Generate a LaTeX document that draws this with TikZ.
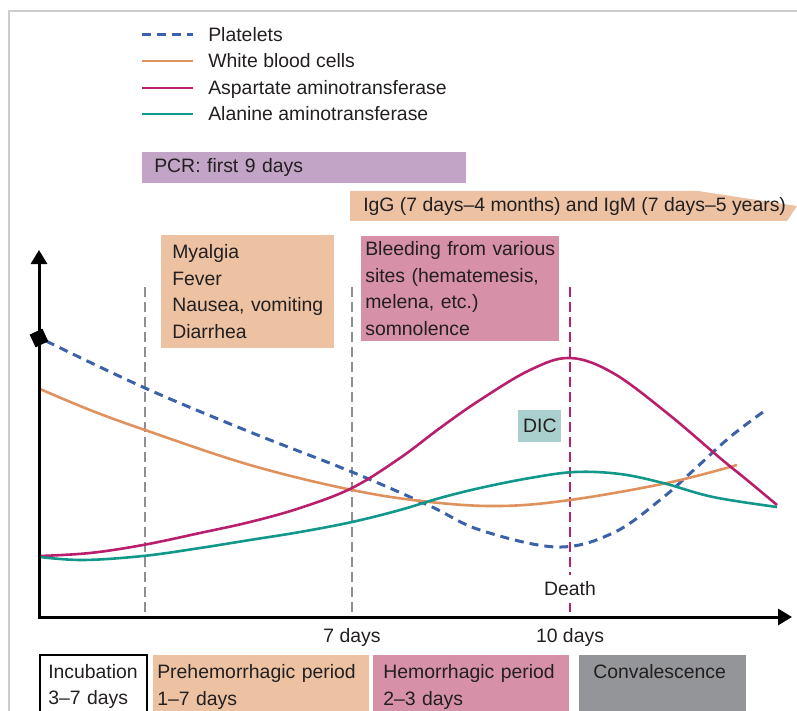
\documentclass[tikz,border=0pt]{standalone}
\usepackage{fontspec}
\setmainfont{Liberation Sans}
\usetikzlibrary{arrows.meta}

\definecolor{ink}{HTML}{231F20}
\definecolor{pltblue}{HTML}{3B62A8}
\definecolor{wbcorange}{HTML}{DF915E}
\definecolor{astmagenta}{HTML}{B81F6C}
\definecolor{altteal}{HTML}{11988A}
\definecolor{peach}{HTML}{ECC2A3}
\definecolor{rose}{HTML}{D690A8}
\definecolor{lavender}{HTML}{C2A4C6}
\definecolor{dicteal}{HTML}{A9D0CC}
\definecolor{convgrey}{HTML}{939598}
\definecolor{guidegrey}{HTML}{8E8E93}
\definecolor{framegrey}{HTML}{CDCDCD}

\begin{document}
\begin{tikzpicture}[x=1pt, y=-1pt, line width=2.6pt,
  every node/.style={text=ink, font=\fontsize{19.4}{26.5}\selectfont},
  box/.style={anchor=north west, align=left, inner ysep=0pt},
  lbl/.style={anchor=base west, inner sep=0pt},
  platelets/.style={pltblue, line width=3pt, dash pattern=on 9pt off 6pt},
  wbc/.style={wbcorange},
  ast/.style={astmagenta},
  alt/.style={altteal},
  guide/.style={guidegrey, line width=1.5pt, dash pattern=on 10pt off 5pt},
  axis/.style={black, line width=3pt, line join=miter,
    {Triangle[length=14pt,width=16pt]}-{Triangle[length=14pt,width=16pt]}}]

\useasboundingbox (0,0) rectangle (797,711);
\draw[framegrey, line width=1.5pt] (9,713) |- (799,11);

\node (lpl)  [lbl] at (207,42)  {Platelets};
\node (lwbc) [lbl] at (207,68)  {White blood cells};
\node (last) [lbl] at (207,95)  {Aspartate aminotransferase};
\node (lalt) [lbl] at (207,121) {Alanine aminotransferase};

\draw[platelets] ([shift={(-65,-7)}]lpl.base west)  -- ([shift={(-14,-7)}]lpl.base west);
\draw[wbc]       ([shift={(-65,-7)}]lwbc.base west) -- ([shift={(-14,-7)}]lwbc.base west);
\draw[ast]       ([shift={(-65,-7)}]last.base west) -- ([shift={(-14,-7)}]last.base west);
\draw[alt]       ([shift={(-65,-7)}]lalt.base west) -- ([shift={(-14,-7)}]lalt.base west);

\node (pcr) [box, fill=lavender, minimum width=324pt, minimum height=31pt,
  inner xsep=12pt, text width=300pt] at (141,151) {PCR: first 9 days};

\fill[peach] (350,191) -- (698,191) -- (797,206) -- (787,221) -- (350,221) -- cycle;
\node (igg) [lbl] at (362,212)
  {IgG (7 days--4 months) and IgM (7 days--5 years)};

\node (sympt) [box, fill=peach, minimum width=173pt, minimum height=113pt,
  inner xsep=11pt, text width=151pt] at (160,234)
  {Myalgia\\Fever\\Nausea, vomiting\\Diarrhea};
\node (bleed) [box, fill=rose, minimum width=198pt, minimum height=105pt,
  inner xsep=4pt, text width=190pt] at (360,235)
  {Bleeding from various\\sites (hematemesis,\\melena, etc.)\\somnolence};
\node (dic) [anchor=north west, fill=dicteal, minimum width=43pt,
  minimum height=32pt, inner sep=0pt] at (517,409) {DIC};

\coordinate (origin) at (39,617);
\coordinate (ytip) at (39,250);
\coordinate (xtip) at (792,617);
\coordinate (g1) at (145,287);
\coordinate (g7) at (352,287);
\coordinate (g10) at (570,287);

\draw[guide] (g1) -- (g1 |- origin);
\draw[guide] (g7) -- (g7 |- origin);
\draw[astmagenta, line width=1.5pt, dash pattern=on 10pt off 5pt] (g10) -- (g10 |- origin);

\draw[platelets] plot[smooth, tension=0.6] coordinates {(46,341) (145,388) (250,432)
  (352,472) (430,506) (480,530) (557,547) (613,533) (660,500) (697,467) (730,437) (763,412)};
\draw[wbc] plot[smooth, tension=0.6] coordinates {(40,389) (90,410) (145,430) (250,465)
  (352,490) (430,502) (500,506) (570,500) (667,483) (737,465)};
\draw[ast] plot[smooth, tension=0.6] coordinates {(40,556) (90,553) (143,545) (200,533)
  (250,522) (300,508) (352,488) (400,458) (440,428) (480,400) (530,370) (570,358)
  (613,373) (667,413) (720,458) (747,480) (777,505)};
\draw[alt] plot[smooth, tension=0.6] coordinates {(40,557) (83,560) (143,556) (200,548)
  (250,540) (300,532) (352,522) (400,510) (440,498) (480,488) (530,478) (575,472)
  (620,474) (663,483) (713,497) (777,507)};

\draw[axis] (ytip) -- (origin) -- (xtip);
\node (mark) [fill=black, minimum size=14pt, inner sep=0pt, rotate=25] at (39,338) {};

\node (death) [fill=white, inner xsep=2pt, inner ysep=7pt] at (570,589) {Death};
\node (d7)  [anchor=base] at (352,642) {7 days};
\node (d10) [anchor=base] at (570,642) {10 days};

\node (incub) [box, draw=black, line width=1.5pt, minimum width=107pt, minimum height=63pt,
  inner xsep=8.5pt, text width=90pt] at (39,654) {Incubation\\3--7 days};
\node (preh) [box, fill=peach, minimum width=216pt, minimum height=63pt,
  inner xsep=4pt, text width=208pt] at (152,654) {Prehemorrhagic period\\1--7 days};
\node (hemo) [box, fill=rose, minimum width=196pt, minimum height=63pt,
  inner xsep=10pt, text width=176pt] at (372,654) {Hemorrhagic period\\2--3 days};
\node (conv) [box, fill=convgrey, minimum width=167pt, minimum height=63pt,
  inner xsep=14pt, text width=139pt] at (578,654) {Convalescence\\\vphantom{y}};

\end{tikzpicture}
\end{document}
